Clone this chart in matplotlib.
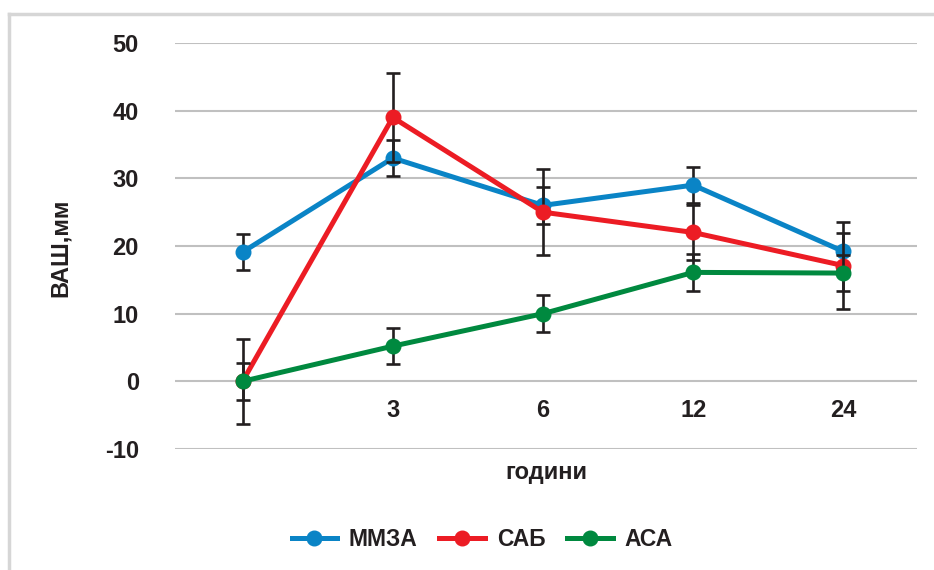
import matplotlib
matplotlib.use("Agg")
import matplotlib.pyplot as plt
from matplotlib.lines import Line2D

plt.rcParams['font.family'] = ['Liberation Sans', 'DejaVu Sans']
plt.rcParams['font.weight'] = 'bold'

x_labels = ["", "3", "6", "12", "24"]
series_names = ["ММЗА", "САБ", "АСА"]
mmza = [19.1, 33.0, 26.0, 29.0, 19.2]
mmza_err = [2.7, 2.7, 2.7, 2.7, 2.7]
sab = [0.0, 39.0, 25.0, 22.0, 17.1]
sab_err = [6.3, 6.6, 6.4, 4.0, 6.4]
asa = [0.0, 5.2, 10.0, 16.1, 16.0]
asa_err = [2.7, 2.7, 2.7, 2.7, 2.7]
y_ticks = [-10, 0, 10, 20, 30, 40, 50]

colors = ["#0a84c6", "#ec1c24", "#00893f"]
txt = "#231f20"

fig = plt.figure(figsize=(9.34, 5.70), dpi=100)
ax = fig.add_axes([175/934, 1-449/570, (917-175)/934, (449-43)/570])

xs = list(range(len(x_labels)))
for i, (vals, errs) in enumerate([(mmza, mmza_err), (sab, sab_err), (asa, asa_err)]):
    ax.errorbar(xs, vals, yerr=errs, fmt='none', ecolor=txt, elinewidth=1.9,
                capsize=5, capthick=1.9, zorder=3 + i * 2)
    ax.plot(xs, vals, color=colors[i], lw=3.6, marker='o', markersize=10.5,
            label=series_names[i], zorder=4 + i * 2)

ax.set_ylim(-10, 50)
ax.set_xlim(-0.45, 4.49)
ax.set_yticks(y_ticks)
ax.set_yticklabels([str(v) for v in y_ticks])
ax.grid(axis='y', color='#c0c0c0', lw=1.5, zorder=0)
ax.set_axisbelow(True)
for s in ['top', 'right', 'left']:
    ax.spines[s].set_visible(False)
ax.spines['bottom'].set_position(('data', 0))
ax.spines['bottom'].set_visible(False)
ax.set_xticks(xs)
ax.set_xticklabels(x_labels)
ax.tick_params(axis='x', length=0, pad=13, labelsize=17, labelcolor=txt)
ax.tick_params(axis='y', length=0, pad=26, labelsize=17, labelcolor=txt)
for lab in ax.get_xticklabels() + ax.get_yticklabels():
    lab.set_fontweight('bold')

fig.text(546/934, 1-472/570, "години", ha='center', va='center', fontsize=17,
         fontweight='bold', color=txt)
fig.text(60/934, 1-248/570, "ВАШ,мм", ha='center', va='center', rotation=90,
         fontsize=17, fontweight='bold', color=txt)

leg = fig.legend(loc='center', bbox_to_anchor=(482/934, 1-540/570), ncol=3,
                 frameon=False, fontsize=16.5, handlelength=2.0, handletextpad=0.5,
                 columnspacing=0.95)
for t in leg.get_texts():
    t.set_color(txt)
    t.set_fontweight('bold')

# outer frame
fig.add_artist(Line2D([9/934, 9/934], [0, 1-14/570], transform=fig.transFigure,
                      color='#d6d6d6', lw=2.5))
fig.add_artist(Line2D([9/934, 1], [1-14/570, 1-14/570], transform=fig.transFigure,
                      color='#d6d6d6', lw=2.5))

fig.savefig("out.png", dpi=100)
